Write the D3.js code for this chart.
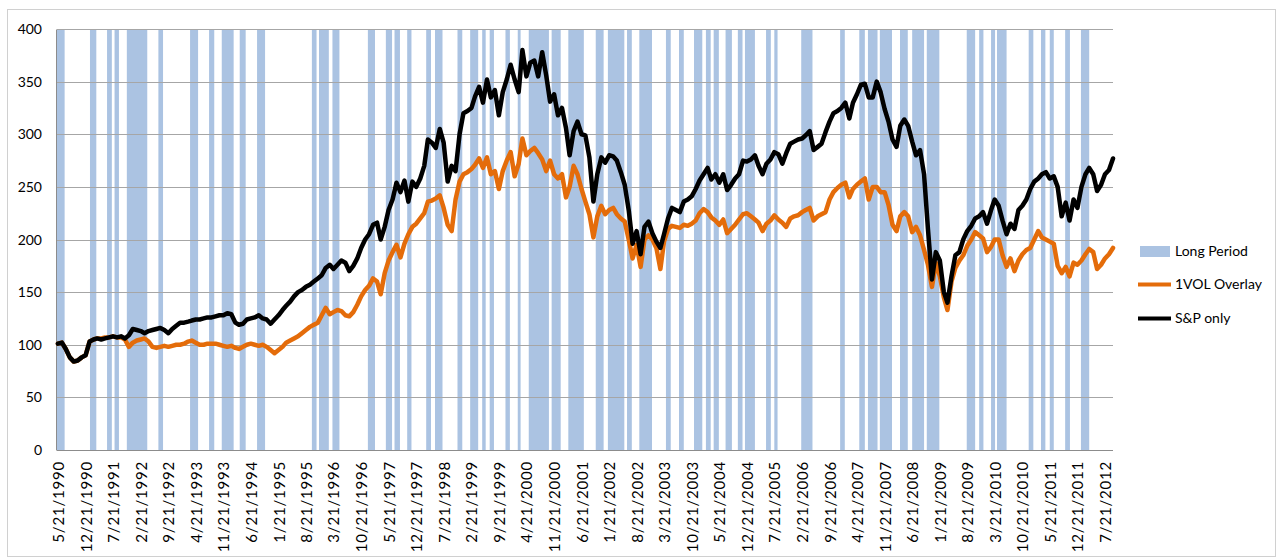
<!DOCTYPE html>
<html><head><meta charset="utf-8">
<script src="https://cdn.jsdelivr.net/npm/d3@7"></script>
<style>
body{margin:0;background:#fff}
svg{display:block}
text{font-family:Lato,"Open Sans","DejaVu Sans",sans-serif}
</style>
</head><body>
<svg id="chart" width="1279" height="559"></svg>
<script>
// ---------- DATA ----------
const seriesNames = ["Long Period", "1VOL Overlay", "S&P only"];
const firstDate = "5/21/1990";   // monthly observations on the 21st
const axisStart = "5/14/1990";
const axisEnd = "9/21/2012";

const spOnly = [
101,102,96,88,84,85,88,90,103,105,106,105,106,107,108,107,108,106,109,115,
114,113,111,113,114,115,116,114,111,115,118,121,121,122,123,124,124,125,126,126,
127,128,128,130,129,121,119,120,124,125,126,128,125,124,120,124,128,133,137,141,
146,150,152,155,157,160,163,166,173,176,172,176,180,178,170,175,182,192,200,205,
214,216,200,212,228,238,254,245,256,236,255,250,258,270,295,292,287,305,292,255,
270,265,300,320,322,325,336,345,330,352,335,342,318,340,352,366,352,340,380,355,
368,370,355,378,356,331,338,318,325,306,280,303,312,300,299,278,236,262,278,273,
280,279,275,264,252,228,196,208,186,212,217,206,198,192,205,220,230,228,226,236,
238,241,248,256,262,268,257,262,254,262,247,252,258,262,275,274,276,280,270,262,
272,276,283,281,272,282,291,293,295,296,299,303,285,288,291,302,312,320,322,325,
330,315,330,338,347,348,335,335,350,340,324,312,295,288,308,314,308,293,280,285,
262,210,162,188,180,150,140,165,185,188,200,208,213,220,222,226,215,228,238,232,
218,205,215,210,228,232,238,248,255,258,262,264,258,260,250,222,235,218,238,230,
250,262,268,262,246,252,262,266,277
];

const volOverlay = [
101,102,96,88,84,85,88,90,103,105,106,106,107,107,108,107,107,105,98,102,
104,105,106,103,98,97,98,99,98,99,100,100,101,103,104,102,100,100,101,101,
101,100,99,98,99,97,96,98,100,101,100,99,100,98,95,92,95,98,102,104,
106,108,111,114,117,119,121,128,135,129,131,133,132,128,127,131,138,146,152,156,
163,160,148,168,180,188,195,183,196,205,212,215,220,225,236,237,239,242,230,214,
208,238,255,262,264,267,271,277,268,278,262,265,248,265,275,283,260,272,296,280,
284,287,282,276,265,275,262,258,262,240,250,270,262,248,236,224,202,222,232,224,
228,230,224,220,217,200,182,195,174,200,204,200,192,172,198,210,213,212,211,214,
213,215,218,225,229,226,221,218,214,219,206,210,214,219,224,225,222,219,216,208,
215,218,223,219,216,212,220,222,223,226,228,230,218,222,224,226,238,245,249,252,
254,240,248,252,255,258,238,250,250,245,245,233,214,208,222,226,222,207,212,204,
190,176,155,178,165,145,133,160,173,180,185,194,200,207,204,201,188,193,200,200,
185,174,182,170,180,186,190,192,200,208,202,200,198,196,175,168,174,165,178,176,
180,186,191,188,172,176,182,186,192
];

const longPeriods = [
["5/14/1990","7/12/1990"],["1/24/1991","3/14/1991"],["6/5/1991","7/12/1991"],
["8/2/1991","9/5/1991"],["11/5/1991","4/11/1992"],["7/6/1992","8/11/1992"],
["3/8/1993","5/9/1993"],["8/2/1993","9/11/1993"],["11/8/1993","2/8/1994"],
["3/27/1994","5/12/1994"],["8/8/1994","10/9/1994"],["10/6/1995","11/11/1995"],
["11/30/1995","2/14/1996"],["3/13/1996","5/6/1996"],["12/12/1996","2/5/1997"],
["4/30/1997","6/17/1997"],["7/6/1997","8/17/1997"],["10/12/1997","11/14/1997"],
["3/8/1998","4/14/1998"],["5/15/1998","7/12/1998"],["11/5/1998","12/12/1998"],
["2/11/1999","4/14/1999"],["5/15/1999","6/11/1999"],["7/12/1999","8/14/1999"],
["11/11/1999","12/15/1999"],["2/14/2000","3/7/2000"],["5/9/2000","10/12/2000"],
["11/2/2000","1/11/2001"],["3/11/2001","7/9/2001"],["10/9/2001","12/9/2001"],
["1/11/2002","5/18/2002"],["6/8/2002","7/15/2002"],["9/11/2002","12/18/2002"],
["4/5/2003","5/12/2003"],["7/15/2003","8/21/2003"],["11/8/2003","1/11/2004"],
["2/8/2004","3/16/2004"],["4/8/2004","5/18/2004"],["7/9/2004","8/27/2004"],
["10/12/2004","11/17/2004"],["12/6/2004","2/21/2005"],["5/18/2005","6/24/2005"],
["7/21/2005","8/15/2005"],["2/14/2006","5/12/2006"],["12/12/2006","1/17/2007"],
["5/9/2007","6/21/2007"],["7/15/2007","9/27/2007"],["10/15/2007","1/17/2008"],
["3/19/2008","5/18/2008"],["6/21/2008","9/21/2008"],["10/12/2008","1/17/2009"],
["8/17/2009","10/21/2009"],["11/21/2009","12/24/2009"],["2/21/2010","3/24/2010"],
["4/8/2010","6/21/2010"],["12/9/2010","1/14/2011"],["3/14/2011","4/17/2011"],
["5/21/2011","6/21/2011"],["9/17/2011","10/24/2011"],["1/17/2012","3/21/2012"]
];

const xTickLabels = [
"5/21/1990","12/21/1990","7/21/1991","2/21/1992","9/21/1992","4/21/1993","11/21/1993",
"6/21/1994","1/21/1995","8/21/1995","3/21/1996","10/21/1996","5/21/1997","12/21/1997",
"7/21/1998","2/21/1999","9/21/1999","4/21/2000","11/21/2000","6/21/2001","1/21/2002",
"8/21/2002","3/21/2003","10/21/2003","5/21/2004","12/21/2004","7/21/2005","2/21/2006",
"9/21/2006","4/21/2007","11/21/2007","6/21/2008","1/21/2009","8/21/2009","3/21/2010",
"10/21/2010","5/21/2011","12/21/2011","7/21/2012"
];
const yTicks = [0, 50, 100, 150, 200, 250, 300, 350, 400];

// ---------- CHART ----------
const svg = d3.select("#chart");
const parse = d3.timeParse("%m/%d/%Y");
const fmt = d3.timeFormat("%-m/%-d/%Y");
const t0 = parse(firstDate);
const dates = spOnly.map((_, i) => d3.timeMonth.offset(t0, i));

const x = d3.scaleTime().domain([parse(axisStart), parse(axisEnd)]).range([57, 1113]);
const y = d3.scaleLinear().domain([0, 400]).range([450, 29]);
const [xl, xr] = x.range();
const [yb, yt] = y.range();

const BAND = "#abc3e2", ORANGE = "#e46c0a", GRID = "#a6a6a6";

// outer chart border
svg.append("rect").attr("x", 7.5).attr("y", 9.5).attr("width", 1268).attr("height", 547)
  .attr("fill", "none").attr("stroke", "#d0d0d0").attr("stroke-width", 1);

// Long Period bands
svg.append("g").selectAll("rect").data(longPeriods).join("rect")
  .attr("x", d => x(parse(d[0])))
  .attr("width", d => Math.max(1, x(parse(d[1])) - x(parse(d[0]))))
  .attr("y", yt).attr("height", yb - yt)
  .attr("fill", BAND);

// gridlines
svg.append("g").selectAll("line").data(yTicks).join("line")
  .attr("x1", xl).attr("x2", xr)
  .attr("y1", d => Math.round(y(d)) + 0.5).attr("y2", d => Math.round(y(d)) + 0.5)
  .attr("stroke", d => d === 0 ? "#8c8c8c" : GRID).attr("stroke-width", 1);

// left axis line
svg.append("line").attr("x1", xl - 0.5).attr("x2", xl - 0.5)
  .attr("y1", Math.round(yt) + 0.5).attr("y2", Math.round(yb) + 0.5)
  .attr("stroke", "#8c8c8c");

// y labels
svg.append("g").selectAll("text").data(yTicks).join("text")
  .attr("x", 42).attr("y", d => y(d) + 5)
  .attr("text-anchor", "end").attr("font-size", 14).attr("fill", "#000")
  .text(d => d);

// x labels
const xAxis = d3.axisBottom(x).tickValues(xTickLabels.map(parse)).tickFormat(fmt).tickSize(0);
const gx = svg.append("g").attr("transform", `translate(0,${yb})`).call(xAxis);
gx.select(".domain").remove();
gx.selectAll("text")
  .attr("font-size", 15).attr("fill", "#000")
  .attr("font-family", 'Lato,"Open Sans",sans-serif')
  .attr("letter-spacing", 0.8)
  .attr("text-anchor", "end")
  .attr("dy", null).attr("y", 0)
  .attr("transform", "translate(5.5,11) rotate(-90)");

// lines
const line = d3.line().x((d, i) => x(dates[i])).y(d => y(d)).curve(d3.curveLinear);
svg.append("path").datum(volOverlay).attr("d", line)
  .attr("fill", "none").attr("stroke", ORANGE).attr("stroke-width", 4.5)
  .attr("stroke-linejoin", "round").attr("stroke-linecap", "round");
svg.append("path").datum(spOnly).attr("d", line)
  .attr("fill", "none").attr("stroke", "#000").attr("stroke-width", 4.5)
  .attr("stroke-linejoin", "round").attr("stroke-linecap", "round");

// legend
const lg = svg.append("g");
lg.append("rect").attr("x", 1140).attr("y", 246).attr("width", 30).attr("height", 11).attr("fill", BAND);
lg.append("line").attr("x1", 1138).attr("x2", 1171).attr("y1", 284.5).attr("y2", 284.5)
  .attr("stroke", ORANGE).attr("stroke-width", 4);
lg.append("line").attr("x1", 1138).attr("x2", 1171).attr("y1", 318.5).attr("y2", 318.5)
  .attr("stroke", "#000").attr("stroke-width", 4);
[[seriesNames[0], 256], [seriesNames[1], 289], [seriesNames[2], 323]].forEach(([t, yy]) => {
  lg.append("text").attr("x", 1175).attr("y", yy).attr("font-size", 14).attr("fill", "#000").text(t);
});
</script>
</body></html>
